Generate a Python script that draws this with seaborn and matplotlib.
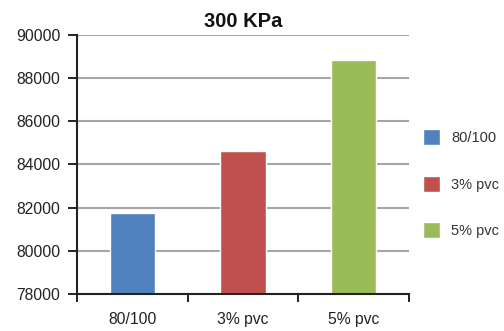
import matplotlib
matplotlib.use("Agg")
import matplotlib.pyplot as plt
import seaborn as sns
import pandas as pd

# Data
categories = ["80/100", "3% pvc", "5% pvc"]
values = [81750, 84620, 88830]
colors = ["#4F81BD", "#C0504D", "#9BBB59"]
y_ticks = [78000, 80000, 82000, 84000, 86000, 88000, 90000]
title = "300 KPa"

sns.set_theme(style="white")
plt.rcParams["font.family"] = ["Liberation Sans", "DejaVu Sans"]

df = pd.DataFrame({"mix": categories, "value": values})

fig = plt.figure(figsize=(5.04, 3.31), dpi=100)
ax = fig.add_axes([0.1528, 0.1118, 0.6587, 0.7825])

sns.barplot(data=df, x="mix", y="value", hue="mix", palette=colors,
            dodge=False, width=0.41, saturation=1, ax=ax, legend=True)

ax.set_ylim(y_ticks[0], y_ticks[-1])
ax.set_xlim(-0.5, len(categories) - 0.5)
ax.set_yticks(y_ticks)
ax.set_yticklabels([str(t) for t in y_ticks], fontsize=11.3, color="#222222")
ax.yaxis.grid(True, color="#A6A6A6", linewidth=1.5)
ax.set_axisbelow(True)

# Category labels centred, tick marks at category boundaries
ax.set_xticks(range(len(categories)))
ax.set_xticklabels(categories, fontsize=11.3, color="#222222")
ax.tick_params(axis="x", which="major", length=0, pad=13)
ax.set_xticks([i - 0.5 for i in range(len(categories) + 1)], minor=True)
ax.tick_params(axis="x", which="minor", bottom=True, length=6, width=1.4,
               color="#222222", direction="out")
ax.tick_params(axis="y", left=True, length=6.5, width=1.4, color="#222222",
               direction="out", pad=5.5)

for side in ["top", "right"]:
    ax.spines[side].set_visible(False)
for side in ["left", "bottom"]:
    ax.spines[side].set_color("#222222")
    ax.spines[side].set_linewidth(1.5)

ax.set_xlabel("")
ax.set_ylabel("")
ax.set_title(title, fontsize=14.5, fontweight="bold", pad=6, color="#111111")

handles, labels = ax.get_legend_handles_labels()
ax.legend(handles, labels, loc="center left", bbox_to_anchor=(1.042, 0.425),
          frameon=False, fontsize=10.5, handlelength=1.15, handleheight=1.3,
          labelspacing=2.1, handletextpad=0.8, borderaxespad=0, borderpad=0,
          labelcolor="#333333")

fig.savefig("out.png", dpi=100, facecolor="white")
